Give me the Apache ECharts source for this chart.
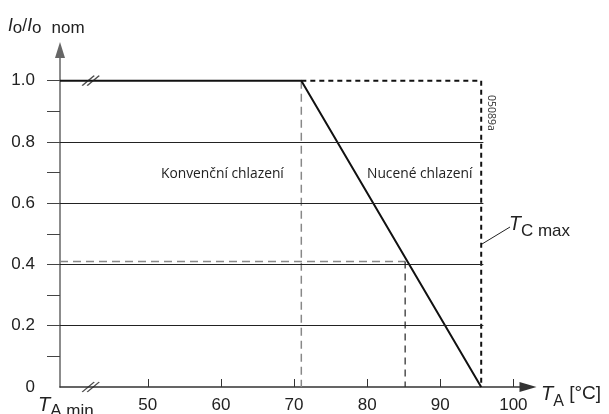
<!DOCTYPE html>
<html>
<head>
<meta charset="utf-8">
<script src="https://cdn.jsdelivr.net/npm/echarts@6/dist/echarts.min.js"></script>
<style>
  html, body { margin: 0; padding: 0; background: #fff; }
  #chart { width: 609px; height: 414px; }
</style>
</head>
<body>
<div id="chart"></div>
<script>
// derating curve I_o / I_o nom over ambient temperature
const curveT = [38, 71, 95.6];
const curveI = [1.0, 1.0, 0];
// dashed frame up to T_C max
const frameT = [71, 95.6, 95.6];
const frameI = [1.0, 1.0, 0];
// reading example
const convT = 71;
const readT = 85.2;
const readI = 0.41;

const tMin = 38;
const tMax = 102;
const iMax = 1.1;
const gridLevels = [0.2, 0.4, 0.6, 0.8];
const gridEnd = 95.9;
const xTicks = [50, 60, 70, 80, 90, 100];
const yLabels = [0, 0.2, 0.4, 0.6, 0.8, 1.0];
const yTicks = [0.1, 0.2, 0.3, 0.4, 0.5, 0.6, 0.7, 0.8, 0.9, 1.0];
const breakT = 42.2;
const breakI = [1.0, 0];

const FONT = "'Liberation Sans', Arial, sans-serif";
const NOTE_FONT = "'Open Sans', 'Noto Sans', sans-serif";

const pairs = (xs, ys) => xs.map((x, i) => [x, ys[i]]);

const chart = echarts.init(document.getElementById('chart'));

const dashedLine = (data, color, width, type) => ({
  type: 'line',
  data: data,
  symbol: 'none',
  silent: true,
  lineStyle: { color: color, width: width, type: type },
  z: 2
});

chart.setOption({
  animation: false,
  grid: { left: 60, right: 81, top: 50, bottom: 27 },
  xAxis: {
    type: 'value',
    min: tMin,
    max: tMax,
    axisLine: {
      show: true,
      symbol: ['none', 'triangle'],
      symbolSize: [10, 17],
      lineStyle: { color: '#333', width: 1.5 }
    },
    axisTick: {
      show: true,
      inside: true,
      length: 8,
      customValues: xTicks,
      lineStyle: { color: '#333', width: 1 }
    },
    axisLabel: {
      customValues: xTicks,
      margin: 10,
      fontSize: 17,
      fontFamily: FONT,
      color: '#222'
    },
    splitLine: { show: false }
  },
  yAxis: {
    type: 'value',
    min: 0,
    max: iMax,
    axisLine: {
      show: true,
      symbol: ['none', 'triangle'],
      symbolSize: [10, 16],
      lineStyle: { color: '#666', width: 1.5 }
    },
    axisTick: {
      show: true,
      length: 13,
      customValues: yTicks,
      lineStyle: { color: '#444', width: 1 }
    },
    axisLabel: {
      customValues: yLabels,
      margin: 25,
      fontSize: 17,
      fontFamily: FONT,
      color: '#222',
      formatter: v => (v === 0 ? '0' : v.toFixed(1))
    },
    splitLine: { show: false }
  },
  series: [
    {
      // horizontal grid lines, ending at T_C max
      type: 'line',
      data: [],
      silent: true,
      markLine: {
        silent: true,
        symbol: 'none',
        label: { show: false },
        lineStyle: { color: '#222', width: 1, type: 'solid' },
        data: gridLevels.map(v => [{ coord: [tMin, v] }, { coord: [gridEnd, v] }])
      }
    },
    dashedLine([[convT, 1.0], [convT, 0]], '#888', 1.5, [8, 5]),
    dashedLine([[tMin, readI], [readT, readI]], '#888', 1.5, [8, 5]),
    dashedLine([[readT, readI], [readT, 0]], '#333', 1.3, [7, 5]),
    dashedLine(pairs(frameT, frameI), '#111', 2, [5, 4]),
    {
      type: 'line',
      data: pairs(curveT, curveI),
      symbol: 'none',
      silent: true,
      lineStyle: { color: '#111', width: 2 },
      z: 3
    },
    {
      // axis break marks
      type: 'scatter',
      data: breakI.map(v => [breakT, v]),
      symbol: 'path://M0,10L12,0M5,10L17,0',
      symbolSize: [17, 10],
      silent: true,
      itemStyle: { color: 'rgba(0,0,0,0)', borderColor: '#222', borderWidth: 1.2 },
      z: 4
    }
  ],
  graphic: [
    {
      type: 'text', x: 8, y: 26,
      style: {
        text: '{i|I}{s|o}{n|/}{i|I}{s|o}{m|nom}',
        textVerticalAlign: 'middle',
        rich: {
          i: { fontSize: 17.5, fontStyle: 'italic', fontFamily: FONT, fill: '#222' },
          n: { fontSize: 17.5, fontFamily: FONT, fill: '#222' },
          s: { fontSize: 17, fontFamily: FONT, fill: '#222', padding: [5, 0, 0, 0] },
          m: { fontSize: 17, fontFamily: FONT, fill: '#222', padding: [5, 0, 0, 10] }
        }
      }
    },
    {
      type: 'text', x: 541, y: 394,
      style: {
        text: '{t|T}{s|A}{n| [°C]}',
        textVerticalAlign: 'middle',
        rich: {
          t: { fontSize: 20, fontStyle: 'italic', fontFamily: FONT, fill: '#222' },
          s: { fontSize: 16, fontFamily: FONT, fill: '#222', padding: [16, 0, 0, 0] },
          n: { fontSize: 19, fontFamily: FONT, fill: '#222' }
        }
      }
    },
    {
      type: 'text', x: 38, y: 405,
      style: {
        text: '{t|T}{s|A min}',
        textVerticalAlign: 'middle',
        rich: {
          t: { fontSize: 20, fontStyle: 'italic', fontFamily: FONT, fill: '#222' },
          s: { fontSize: 17, fontFamily: FONT, fill: '#222', padding: [13, 0, 0, 0] }
        }
      }
    },
    {
      type: 'text', x: 509, y: 225,
      style: {
        text: '{t|T}{s|C max}',
        textVerticalAlign: 'middle',
        rich: {
          t: { fontSize: 19.5, fontStyle: 'italic', fontFamily: FONT, fill: '#222' },
          s: { fontSize: 17, fontFamily: FONT, fill: '#222', padding: [12, 0, 0, 0] }
        }
      }
    },
    {
      type: 'line',
      shape: { x1: 482, y1: 244, x2: 510, y2: 227 },
      style: { stroke: '#222', lineWidth: 1 }
    },
    {
      type: 'text', x: 161, y: 174,
      style: {
        text: 'Konvenční chlazení',
        fontSize: 13.8, fontFamily: NOTE_FONT, fill: '#222',
        textVerticalAlign: 'middle'
      }
    },
    {
      type: 'text', x: 367, y: 174,
      style: {
        text: 'Nucené chlazení',
        fontSize: 13.8, fontFamily: NOTE_FONT, fill: '#222',
        textVerticalAlign: 'middle'
      }
    },
    {
      type: 'text', x: 491, y: 95, rotation: -Math.PI / 2,
      style: {
        text: '05089a',
        fontSize: 10.5, fontFamily: NOTE_FONT, fill: '#333',
        textVerticalAlign: 'middle'
      }
    }
  ]
});
</script>
</body>
</html>
